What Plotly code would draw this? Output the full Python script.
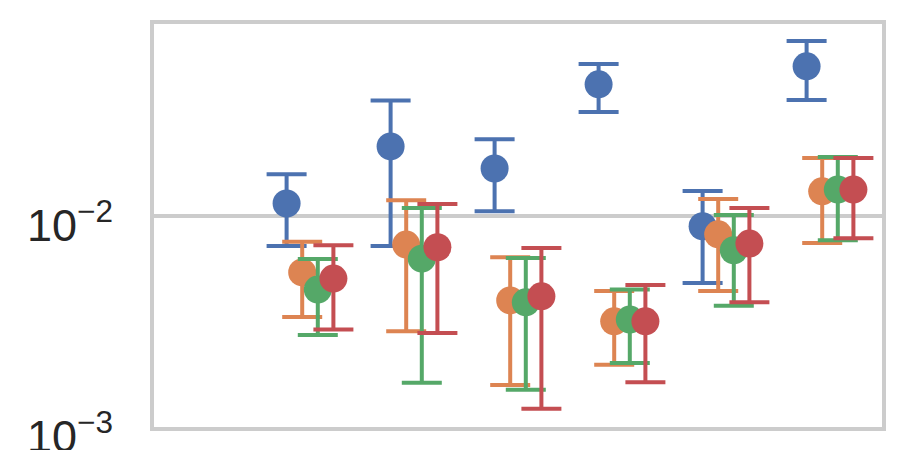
import numpy as np
import plotly.graph_objects as go

# ---- data ----
groups = [1, 2, 3, 4, 5, 6]          # category positions (position 0 is empty)
series_names = ["blue", "orange", "green", "red"]

blue_mid = [0.01146, 0.02138, 0.01679, 0.04209, 0.00894, 0.05123]
blue_lo  = [0.00721, 0.00721, 0.01052, 0.03114, 0.00481, 0.03548]
blue_hi  = [0.01576, 0.03531, 0.02309, 0.05254, 0.01314, 0.06752]

orange_mid = [0.00540, 0.00732, 0.00398, 0.00317, 0.00819, 0.01309]
orange_lo  = [0.00332, 0.00284, 0.00158, 0.00197, 0.00441, 0.00745]
orange_hi  = [0.00756, 0.01187, 0.00637, 0.00441, 0.01204, 0.01883]

green_mid = [0.00448, 0.00628, 0.00390, 0.00323, 0.00688, 0.01334]
green_lo  = [0.00273, 0.00162, 0.00150, 0.00201, 0.00376, 0.00767]
green_hi  = [0.00625, 0.01091, 0.00632, 0.00448, 0.01011, 0.01904]

red_mid = [0.00505, 0.00711, 0.00416, 0.00317, 0.00740, 0.01334]
red_lo  = [0.00290, 0.00279, 0.00122, 0.00163, 0.00390, 0.00784]
red_hi  = [0.00726, 0.01140, 0.00705, 0.00471, 0.01091, 0.01883]

ytick_vals = [0.001, 0.01]
ytick_text = ["10<sup>\u22123</sup>", "10<sup>\u22122</sup>"]

# ---- styling ----
colors = ["#4C72B0", "#DD8452", "#55A868", "#C44E52"]
dodge = [-0.225, -0.075, 0.075, 0.225]

mids = [blue_mid, orange_mid, green_mid, red_mid]
los = [blue_lo, orange_lo, green_lo, red_lo]
his = [blue_hi, orange_hi, green_hi, red_hi]

fig = go.Figure()
for name, c, off, m, lo, hi in zip(series_names, colors, dodge, mids, los, his):
    m = np.array(m); lo = np.array(lo); hi = np.array(hi)
    fig.add_trace(go.Scatter(
        x=np.array(groups) + off, y=m, mode="markers", name=name,
        marker=dict(size=28, color=c, line=dict(width=0)),
        error_y=dict(type="data", symmetric=False, array=hi - m, arrayminus=m - lo,
                     color=c, thickness=4, width=20),
        showlegend=False,
    ))

fig.update_layout(
    width=900, height=450,
    margin=dict(l=154, r=18, t=24, b=23, autoexpand=False),
    paper_bgcolor="white", plot_bgcolor="white",
    font=dict(family="Liberation Sans, Arial, sans-serif", color="#262626"),
)
fig.update_xaxes(range=[-0.5, 6.5], showticklabels=False, showgrid=False, zeroline=False,
                 showline=True, linecolor="#cccccc", linewidth=4, mirror=True, ticks="",
                 automargin=False)
fig.update_yaxes(type="log", range=[-3, -1.09], tickvals=ytick_vals, ticktext=ytick_text,
                 tickfont=dict(size=45, color="#262626"),
                 showgrid=True, gridcolor="#cccccc", gridwidth=3.5, zeroline=False,
                 showline=True, linecolor="#cccccc", linewidth=4, mirror=True, ticks="",
                 ticklabelstandoff=28, ticklabelshift=9, ticklabeloverflow="allow",
                 automargin=False)

fig.write_html("out.html")
